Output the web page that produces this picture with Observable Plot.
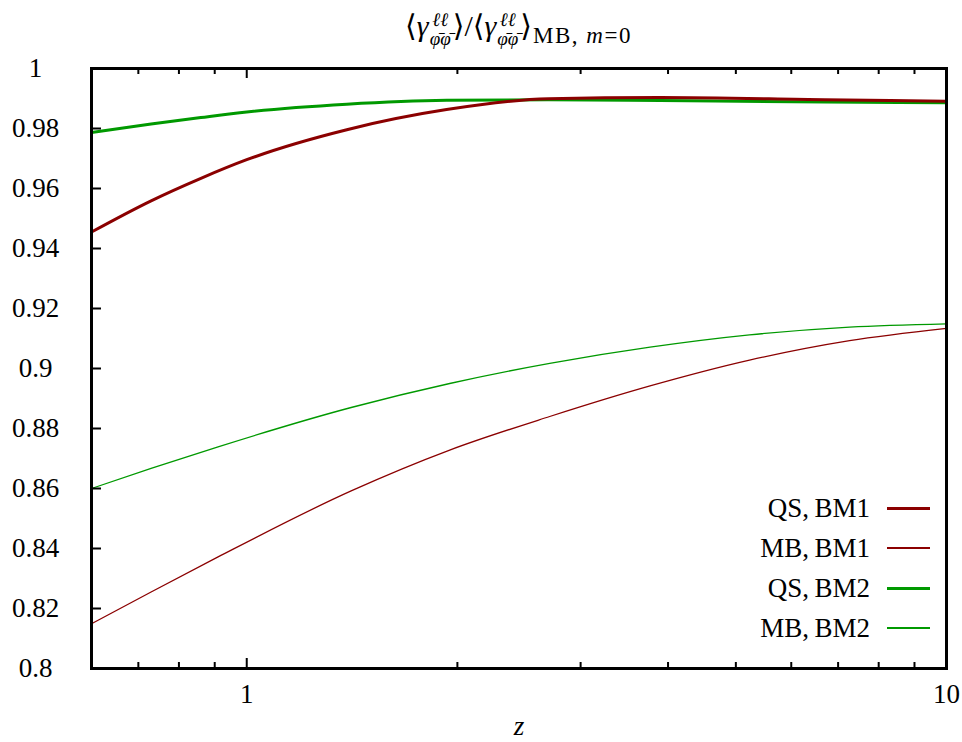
<!DOCTYPE html>
<html><head><meta charset="utf-8">
<script src="https://cdn.jsdelivr.net/npm/d3@7"></script>
<script src="https://cdn.jsdelivr.net/npm/@observablehq/plot@0.6"></script>
<style>
body{margin:0;background:#fff;font-family:"Liberation Serif","DejaVu Serif",serif;}
#wrap{position:relative;width:962px;height:742px;}
#title{position:absolute;top:6px;left:91px;width:855px;text-align:center;font-size:30px;line-height:40px;white-space:nowrap;}
.ss{display:inline-flex;flex-direction:column;vertical-align:middle;font-size:19px;line-height:19px;margin:0 2px 0 1px;}
.ss span{display:block;}
.sub{font-size:23px;letter-spacing:1.5px;position:relative;top:7px;margin-left:1px;}
.leg{position:absolute;right:92px;font-size:27px;line-height:30px;white-space:nowrap;}
.sw{position:absolute;left:887px;width:43px;}
svg [aria-label="x-axis label"] text{font-style:italic;}
</style></head>
<body><div id="wrap"><div id="chart"></div>
<div id="title">⟨<i>γ</i><span class="ss"><span><i>ℓℓ</i></span><span><i>φ̄φ̄</i></span></span>⟩/⟨<i>γ</i><span class="ss"><span><i>ℓℓ</i></span><span><i>φ̄φ̄</i></span></span>⟩<span class="sub">MB, <i>m</i>=0</span></div>
<div id="legend"></div>
</div>
<script>
// Data
const zQS   = [0.6, 0.73, 0.86, 1, 1.39, 1.93, 2.7, 3.9, 6.7, 10];
const qsBM1 = [0.9455, 0.9559, 0.9634, 0.9696, 0.9796, 0.9863, 0.9899, 0.9903, 0.9896, 0.9891];
const qsBM2 = [0.9787, 0.9815, 0.98365, 0.9855, 0.9881, 0.9894, 0.9896, 0.9893, 0.9888, 0.9886];
const zMB   = [0.6, 0.73, 0.91, 1.41, 1.95, 2.71, 3.77, 5.23, 7.27, 10];
const mbBM1 = [0.8149, 0.8255, 0.8372, 0.8592, 0.8728, 0.8840, 0.8942, 0.9028, 0.9093, 0.9134];
const mbBM2 = [0.8600, 0.8667, 0.8739, 0.8870, 0.8950, 0.9017, 0.9071, 0.9112, 0.9138, 0.9149];
const seriesNames = ["QS, BM1", "MB, BM1", "QS, BM2", "MB, BM2"];
const seriesColors = ["#8b0000", "#8b0000", "#009900", "#009900"];
const seriesWidths = [3, 1.3, 3, 1.3];
const xTickLabels = [1, 10];
const xMinor = [0.7, 0.8, 0.9, 2, 3, 4, 5, 6, 7, 8, 9];
const yTickLabels = [0.8, 0.82, 0.84, 0.86, 0.88, 0.9, 0.92, 0.94, 0.96, 0.98, 1];

const W = 962, H = 742, mL = 91, mR = 16, mT = 68, mB = 74;
const pw = W - mL - mR, ph = H - mT - mB;

const data = [];
zQS.forEach((z, i) => data.push({z, v: qsBM1[i], s: 0}));
zMB.forEach((z, i) => data.push({z, v: mbBM1[i], s: 1}));
zQS.forEach((z, i) => data.push({z, v: qsBM2[i], s: 2}));
zMB.forEach((z, i) => data.push({z, v: mbBM2[i], s: 3}));

const drawOrder = [1, 3, 2, 0];
const lines = drawOrder.map(s => Plot.line(data.filter(d => d.s === s), {
  x: "z", y: "v", stroke: seriesColors[s], strokeWidth: seriesWidths[s], curve: "monotone-x"
}));

const yInner = yTickLabels.slice(1, -1);
const chart = Plot.plot({
  width: W, height: H, marginLeft: mL, marginRight: mR, marginTop: mT, marginBottom: mB,
  style: {fontFamily: '"Liberation Serif","DejaVu Serif",serif', fontSize: "27px", color: "#000", background: "#fff"},
  x: {type: "log", domain: [0.6, 10]},
  y: {domain: [0.8, 1]},
  marks: [
    Plot.axisX({ticks: xTickLabels, tickSize: 0, tickPadding: 15, tickFormat: d => String(d),
      label: "z", labelAnchor: "center", labelArrow: "none", labelOffset: 66}),
    Plot.axisY({ticks: yTickLabels, tickSize: 0, tickPadding: 56, textAnchor: "middle",
      tickFormat: d => String(+d.toFixed(2)), label: null}),
    ...lines,
    Plot.tickX([1], {x: d => d, insetTop: ph - 10, strokeWidth: 2}),
    Plot.tickX([1], {x: d => d, insetBottom: ph - 10, strokeWidth: 2}),
    Plot.tickX(xMinor, {x: d => d, insetTop: ph - 6, strokeWidth: 2}),
    Plot.tickX(xMinor, {x: d => d, insetBottom: ph - 6, strokeWidth: 2}),
    Plot.tickY(yInner, {y: d => d, insetRight: pw - 10, strokeWidth: 2}),
    Plot.frame({stroke: "#000", strokeWidth: 3})
  ]
});
document.getElementById("chart").appendChild(chart);

// legend
const leg = document.getElementById("legend");
const rowY = [508, 548, 588, 628];
seriesNames.forEach((name, i) => {
  const t = document.createElement("div");
  t.className = "leg"; t.textContent = name.replace(", ", ",\u2009");
  t.style.top = (rowY[i] - 15) + "px";
  leg.appendChild(t);
  const sw = document.createElement("div");
  sw.className = "sw";
  sw.style.top = (rowY[i] - seriesWidths[i] / 2) + "px";
  sw.style.height = seriesWidths[i] + "px";
  sw.style.background = seriesColors[i];
  leg.appendChild(sw);
});
</script>
</body></html>
